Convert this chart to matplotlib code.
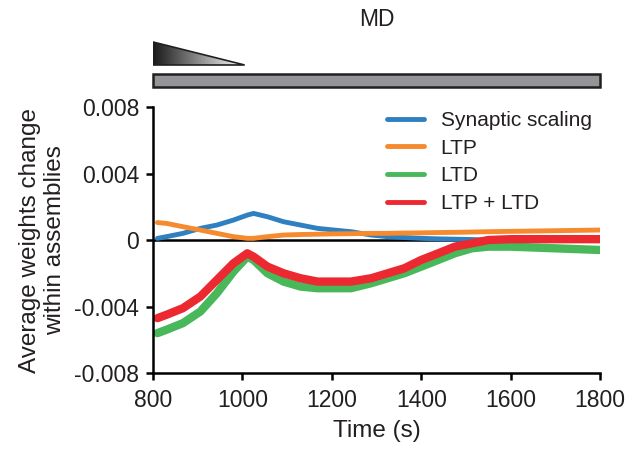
import numpy as np
import matplotlib
matplotlib.use("Agg")
import matplotlib.pyplot as plt
from matplotlib.patches import Rectangle, Polygon

plt.rcParams["font.family"] = ["Liberation Sans", "DejaVu Sans"]

# ---------------------------------------------------------
# Data
# ---------------------------------------------------------

time_s = [810, 830, 867, 906, 943, 980, 1011, 1025, 1056, 1092, 1130, 1168, 1205,
          1243, 1288, 1325, 1362, 1400, 1438, 1475, 1513, 1550, 1600, 1700, 1800]

scaling = [0.0001, 0.0002, 0.0004, 0.0007, 0.0009, 0.0012, 0.0015, 0.0016, 0.0014,
           0.0011, 0.0009, 0.0007, 0.0006, 0.0005, 0.0003, 0.0002, 0.00015, 0.0001,
           0.00007, 0.00005, 0.00003, 0.0, 0.0, 0.0, 0.0]

ltp = [0.00105, 0.0010, 0.0008, 0.0006, 0.0004, 0.0002, 0.0001, 0.0001, 0.0002,
       0.0003, 0.00033, 0.00035, 0.00037, 0.00038, 0.0004, 0.0004, 0.00042, 0.00043,
       0.00045, 0.00046, 0.00048, 0.0005, 0.00052, 0.00056, 0.0006]

ltd = [-0.0056, -0.0054, -0.0050, -0.0043, -0.0032, -0.0019, -0.0010, -0.0012,
       -0.0020, -0.0025, -0.0028, -0.0029, -0.0029, -0.0029, -0.0026, -0.0023,
       -0.0020, -0.0016, -0.0012, -0.0008, -0.0005, -0.0004, -0.0004, -0.0005, -0.0006]

ltp_ltd = [-0.0047, -0.0045, -0.0041, -0.0034, -0.0024, -0.0014, -0.0008, -0.0010,
           -0.0016, -0.0020, -0.0023, -0.0025, -0.0025, -0.0025, -0.0023, -0.0020,
           -0.0017, -0.0012, -0.0008, -0.0004, -0.0002, 0.0, 0.00005, 0.00005, 0.00005]

series_labels = ["Synaptic scaling", "LTP", "LTD", "LTP + LTD"]
series_colors = ["#2f80c0", "#f68a2e", "#48b85a", "#ec2830"]

x_ticks = [800, 1000, 1200, 1400, 1600, 1800]
y_ticks = [-0.008, -0.004, 0, 0.004, 0.008]
y_tick_labels = ["-0.008", "-0.004", "0", "0.004", "0.008"]

# MD period and the fading ramp at its start
md_start, md_end = 800, 1800
ramp_end = 1005

text_color = "#231f20"

# ---------------------------------------------------------
# Main plot
# ---------------------------------------------------------

fig = plt.figure(figsize=(6.29, 4.5), dpi=100)
ax = fig.add_axes([0.2432, 0.1711, 0.7108, 0.5911])

ax.axhline(0, color="black", linewidth=1.8, zorder=1)

widths = [3.5, 3.5, 6, 6]
for values, label, color, lw in zip([scaling, ltp, ltd, ltp_ltd], series_labels,
                                    series_colors, widths):
    ax.plot(time_s, values, color=color, linewidth=lw, label=label,
            solid_capstyle="round", solid_joinstyle="round", zorder=2)

ax.set_xlim(800, 1800)
ax.set_ylim(-0.008, 0.008)
ax.set_xticks(x_ticks)
ax.set_yticks(y_ticks)
ax.set_yticklabels(y_tick_labels)

ax.set_xlabel("Time (s)", fontsize=17.5, color=text_color, labelpad=5.5)
ax.set_ylabel("Average weights change\nwithin assemblies", fontsize=17.5,
              color=text_color, labelpad=5.5, linespacing=1.22)

ax.spines["top"].set_visible(False)
ax.spines["right"].set_visible(False)
for side in ["left", "bottom"]:
    ax.spines[side].set_linewidth(1.8)
ax.tick_params(direction="out", length=5, width=1.8, labelsize=16.5,
               labelcolor=text_color)
ax.tick_params(axis="x", pad=6.5)
ax.tick_params(axis="y", pad=5)

leg = ax.legend(loc="upper right", bbox_to_anchor=(1.0, 1.017), frameon=False,
                fontsize=15, handlelength=1.8, handletextpad=0.8,
                labelspacing=0.42, borderaxespad=0)
for line in leg.get_lines():
    line.set_linewidth(3.5)
for txt in leg.get_texts():
    txt.set_color(text_color)

# ---------------------------------------------------------
# MD bar with ramp on top
# ---------------------------------------------------------

top = fig.add_axes([0.2432, 0.8, 0.7108, 0.1156])
top.set_xlim(800, 1800)
top.set_ylim(0, 52)
top.axis("off")

top.add_patch(Rectangle((md_start, 3), md_end - md_start, 13, facecolor="#939598",
                        edgecolor="#231f20", linewidth=1.8, clip_on=False))

ramp = Polygon([(md_start, 25), (md_start, 48), (ramp_end, 25)], closed=True,
               facecolor="none", edgecolor="#231f20", linewidth=1.2)
top.add_patch(ramp)
gradient = np.linspace(0.1, 1.0, 256).reshape(1, -1)
img = top.imshow(gradient, cmap="gray", vmin=0, vmax=1, aspect="auto",
                 extent=[md_start, ramp_end, 25, 48])
img.set_clip_path(ramp)

top.text((md_start + md_end) / 2, 70, "MD", fontsize=16.5, color=text_color,
         ha="center", va="center")

fig.savefig("out.png", dpi=100)
